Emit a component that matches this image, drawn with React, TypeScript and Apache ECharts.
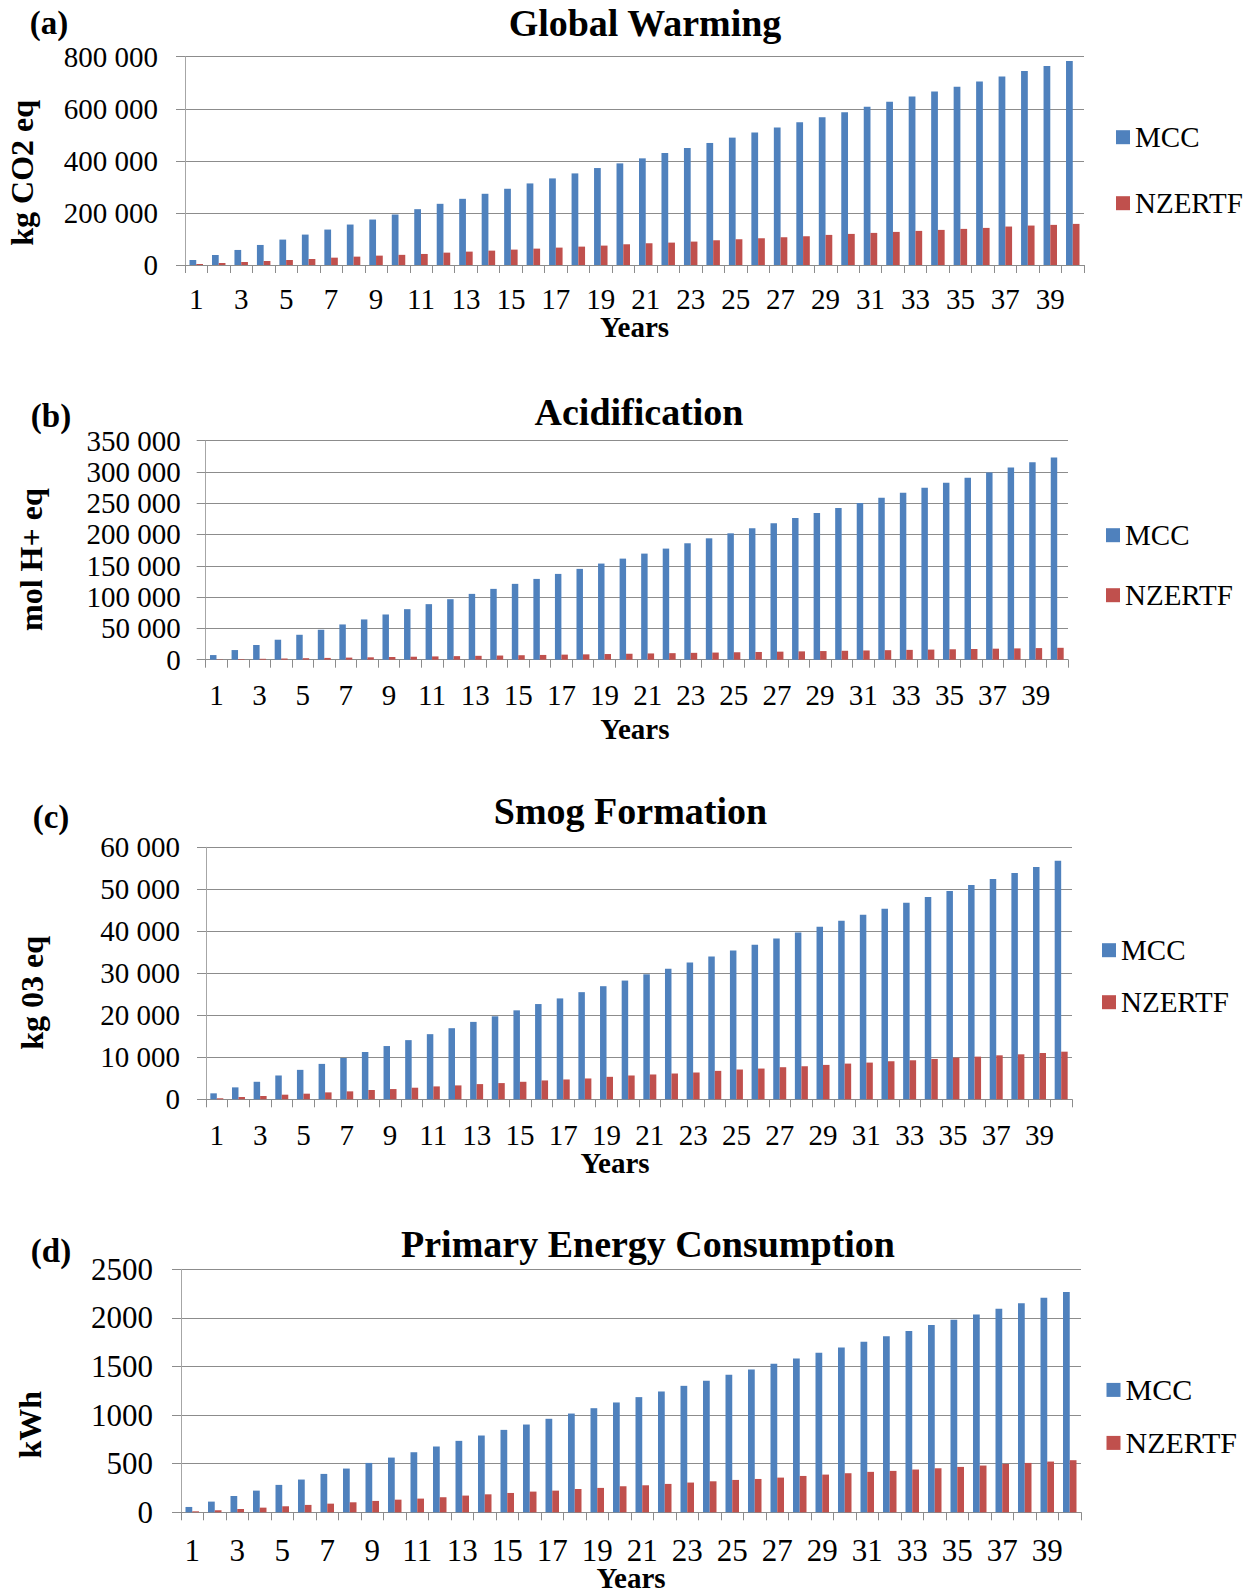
import React, { useEffect, useRef } from 'react';
import * as echarts from 'echarts';

const years = ['1','2','3','4','5','6','7','8','9','10','11','12','13','14','15','16','17','18','19','20',
  '21','22','23','24','25','26','27','28','29','30','31','32','33','34','35','36','37','38','39','40'];

const seriesNames = ['MCC', 'NZERTF'];

const gwMCC = [19300, 38500, 57800, 77000, 97600, 116800, 136100, 155400, 174600, 193900, 214400, 235000, 254200, 273500, 292800, 313300, 332600, 351800, 372400, 390300, 409600, 430100, 449400, 468700, 489200, 508500, 527700, 548300, 567500, 586800, 607300, 626600, 647100, 666400, 684400, 704900, 724200, 744700, 764000, 783200];
const gwNZ = [3900, 7700, 11600, 15400, 19300, 23100, 28200, 32100, 36000, 39000, 42400, 47500, 51400, 55200, 59100, 62900, 66800, 70600, 74500, 79600, 83500, 86000, 89900, 95000, 98900, 102700, 106600, 110400, 115600, 119400, 123300, 127100, 131000, 134800, 138700, 142500, 147700, 151500, 154100, 157900];

const acMCC = [7400, 15400, 23400, 31900, 39800, 47800, 56300, 64300, 72200, 80700, 88700, 96600, 105100, 113100, 121100, 129000, 137000, 145000, 153500, 161400, 169400, 177400, 185900, 193800, 201800, 209700, 217700, 226200, 234200, 242100, 250100, 258600, 266600, 274500, 282500, 290500, 299000, 306900, 315400, 322800];
const acNZ = [480, 950, 1430, 1900, 2400, 2850, 3350, 3800, 4300, 4750, 5250, 5700, 6200, 6650, 7150, 7600, 8100, 8550, 9050, 9500, 10000, 10450, 10950, 11400, 11900, 12350, 12850, 13300, 13800, 14250, 14750, 15200, 15700, 16150, 16650, 17100, 17600, 18050, 18550, 19000];

const smMCC = [1420, 2840, 4170, 5670, 7010, 8430, 9840, 11260, 12680, 14090, 15510, 16930, 18430, 19760, 21180, 22680, 24020, 25510, 26930, 28270, 29760, 31100, 32600, 34020, 35430, 36770, 38270, 39690, 41100, 42520, 43940, 45350, 46770, 48190, 49610, 51020, 52440, 53860, 55280, 56770];
const smNZ = [240, 550, 790, 1100, 1340, 1650, 1890, 2210, 2440, 2760, 3070, 3310, 3620, 3860, 4170, 4490, 4720, 4960, 5350, 5670, 5910, 6140, 6380, 6770, 7090, 7320, 7640, 7870, 8190, 8500, 8740, 9060, 9290, 9610, 9920, 10160, 10470, 10710, 11020, 11340];

const peMCC = [55, 110, 168, 223, 282, 337, 395, 450, 508, 563, 618, 677, 735, 790, 848, 903, 962, 1016, 1071, 1130, 1185, 1243, 1301, 1353, 1415, 1470, 1528, 1583, 1641, 1696, 1755, 1810, 1865, 1926, 1981, 2036, 2095, 2150, 2208, 2266];
const peNZ = [10, 21, 34, 48, 62, 76, 89, 103, 117, 130, 141, 155, 172, 185, 199, 213, 223, 240, 251, 268, 278, 292, 306, 319, 333, 343, 357, 374, 388, 402, 416, 426, 440, 453, 467, 481, 498, 508, 522, 536];

const titles = ['Global Warming', 'Acidification', 'Smog Formation', 'Primary Energy Consumption'];
const letters = ['(a)', '(b)', '(c)', '(d)'];
const yNames = ['kg CO2 eq', 'mol H+ eq', 'kg 03 eq', 'kWh'];
const xName = 'Years';
const yMax = [800000, 350000, 60000, 2500];
const yInterval = [200000, 50000, 10000, 500];

const FONT = "'Liberation Serif', 'Times New Roman', serif";
const BLUE = '#4F81BD';
const RED = '#C0504D';
const GRID_COLOR = '#8c8c8c';
const AXIS_COLOR = '#a6a6a6';

const spaced = (v: number) => String(v).replace(/\B(?=(\d{3})+(?!\d))/g, ' ');

// layout per panel (page coordinates)
const layout = [
  { grid: { left: 185, top: 56.7, width: 899, height: 208.3 }, title: { x: 645, top: 3.5 }, letter: { x: 49, y: 23 },
    yGap: 147, yPad: 24, yLabelMargin: 27, xLabelMargin: 19, xGap: 47, xPad: 0, fs: 29, legend: { left: 1116, top: 122.7, gap: 37 }, lfs: 29 },
  { grid: { left: 205.7, top: 440.5, width: 862.3, height: 219.2 }, title: { x: 639, top: 393 }, letter: { x: 51, y: 416 },
    yGap: 159, yPad: 19, yLabelMargin: 25, xLabelMargin: 21, xGap: 55, xPad: 4, fs: 29, legend: { left: 1106, top: 520.7, gap: 31 }, lfs: 29 },
  { grid: { left: 206, top: 847.3, width: 866, height: 252 }, title: { x: 630.5, top: 791.5 }, letter: { x: 51, y: 817 },
    yGap: 158, yPad: 39, yLabelMargin: 26, xLabelMargin: 21, xGap: 49, xPad: 48, fs: 29, legend: { left: 1102, top: 935.7, gap: 23 }, lfs: 29 },
  { grid: { left: 181, top: 1269.3, width: 900, height: 243 }, title: { x: 648, top: 1225 }, letter: { x: 51, y: 1250.7 },
    yGap: 135, yPad: 68, yLabelMargin: 28, xLabelMargin: 23, xGap: 51, xPad: 0, fs: 31, legend: { left: 1106.5, top: 1374.9, gap: 23 }, lfs: 30 },
];

const App: React.FC = () => {
  const ref = useRef<HTMLDivElement>(null);
  useEffect(() => {
    if (!ref.current) return;
    const chart = echarts.init(ref.current, undefined, { renderer: 'svg' });
    const dataSets = [[gwMCC, gwNZ], [acMCC, acNZ], [smMCC, smNZ], [peMCC, peNZ]];

    const option: any = {
      animation: false,
      backgroundColor: '#fff',
      title: layout.map((l, i) => ({
        text: titles[i], left: l.title.x, top: l.title.top, textAlign: 'center', padding: 0,
        textStyle: { fontFamily: FONT, fontSize: 38, fontWeight: 'bold', color: '#000' },
      })),
      graphic: layout.map((l, i) => ({
        type: 'text', x: l.letter.x, y: l.letter.y,
        style: { text: letters[i], font: `bold 33px ${FONT}`, fill: '#000', textAlign: 'center', textVerticalAlign: 'middle' },
      })),
      legend: layout.map((l) => ({
        orient: 'vertical', left: l.legend.left, top: l.legend.top, itemGap: l.legend.gap,
        itemWidth: 14, itemHeight: 14, icon: 'rect', padding: 0, selectedMode: false,
        data: seriesNames,
        textStyle: { fontFamily: FONT, fontSize: l.lfs, color: '#000' },
      })),
      grid: layout.map((l) => ({ ...l.grid, containLabel: false, outerBoundsMode: 'none' })),
      xAxis: layout.map((l, i) => ({
        type: 'category', gridIndex: i, data: years, boundaryGap: true,
        name: xName, nameLocation: 'middle', nameGap: l.xGap, nameMoveOverlap: false,
        nameTextStyle: { fontFamily: FONT, fontSize: 29, fontWeight: 'bold', color: '#000', padding: [0, l.xPad, 0, 0] },
        axisLine: { show: true, lineStyle: { color: GRID_COLOR } },
        axisTick: { show: true, interval: 0, length: 8, alignWithLabel: false, lineStyle: { color: GRID_COLOR } },
        axisLabel: { interval: 1, margin: l.xLabelMargin, fontFamily: FONT, fontSize: l.fs, color: '#000' },
        splitLine: { show: false },
      })),
      yAxis: layout.map((l, i) => ({
        type: 'value', gridIndex: i, min: 0, max: yMax[i], interval: yInterval[i],
        name: yNames[i], nameLocation: 'middle', nameGap: l.yGap, nameRotate: 90, nameMoveOverlap: false,
        nameTextStyle: { fontFamily: FONT, fontSize: 32, fontWeight: 'bold', color: '#000', padding: [0, l.yPad, 0, 0] },
        axisLine: { show: true, lineStyle: { color: AXIS_COLOR } },
        axisTick: { show: true, length: 9, lineStyle: { color: GRID_COLOR } },
        axisLabel: {
          margin: l.yLabelMargin, fontFamily: FONT, fontSize: l.fs, color: '#000',
          formatter: (v: number) => (i === 3 ? String(v) : spaced(v)),
        },
        splitLine: { show: true, lineStyle: { color: GRID_COLOR } },
      })),
      series: dataSets.flatMap((ds, i) => [
        { type: 'bar', name: seriesNames[0], xAxisIndex: i, yAxisIndex: i, data: ds[0], barWidth: '30%', barGap: '0%', itemStyle: { color: BLUE } },
        { type: 'bar', name: seriesNames[1], xAxisIndex: i, yAxisIndex: i, data: ds[1], barWidth: '30%', barGap: '0%', itemStyle: { color: RED } },
      ]),
    };
    chart.setOption(option);
    return () => chart.dispose();
  }, []);
  return <div ref={ref} style={{ position: 'absolute', left: 0, top: 0, width: 1257, height: 1596 }} />;
};

export default App;
